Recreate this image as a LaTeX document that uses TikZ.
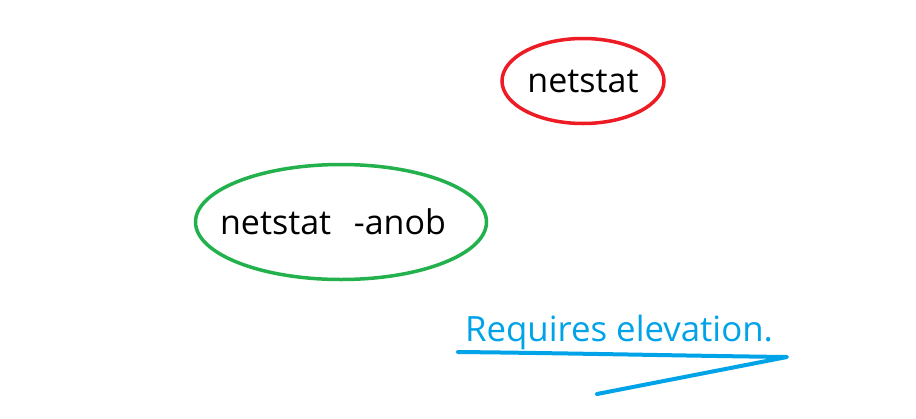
\documentclass[tikz,border=0pt]{standalone}
\usepackage{fontspec}
\setmainfont{Open Sans}
\usetikzlibrary{shapes.geometric}
\definecolor{paintred}{HTML}{ED1C24}
\definecolor{paintgreen}{HTML}{22B14C}
\definecolor{paintblue}{HTML}{00A2E8}
\begin{document}
\begin{tikzpicture}[x=1pt,y=-1pt,
  ring/.style = {draw, ellipse, line width=3.5pt, inner sep=0pt, font=\fontsize{34}{40}\selectfont}]
				\useasboundingbox (0,0) rectangle (916,418);
				\node[ring, paintred, text=black, minimum width=162pt, minimum height=85pt] (cmd) at (583,81) {\makebox[0pt]{netstat}};
				\node[ring, paintgreen, text=black, minimum width=291pt, minimum height=115pt] (cmdall) at (341,222) {\makebox[0pt]{netstat\ \ \hspace{5pt}-anob\hspace{16pt}}};
				\node[text=paintblue, font=\fontsize{34.8}{40}\selectfont, inner sep=0pt] (note) at (619,332) {Requires elevation.};
				\draw [line width=4pt, paintblue, line cap=round, line join=round] (458,352) .. controls (560,353) and (700,356) .. (787,357) -- (597,394);
			\end{tikzpicture}
\end{document}
